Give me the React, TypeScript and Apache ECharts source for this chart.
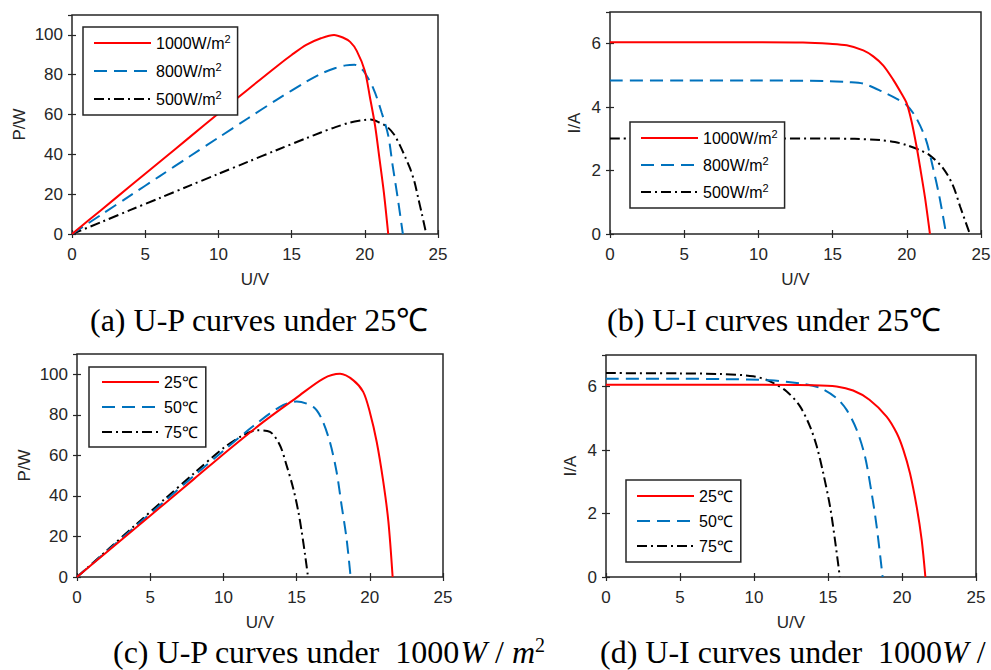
import React, { useEffect, useRef } from "react";
import * as echarts from "echarts";

// ---------- data ----------
// (a) U-P curves under 25°C
const A_V1000 = [0, 2, 4, 6, 8, 10, 12, 14, 15, 16, 17, 17.9, 18.5, 19, 19.45, 20, 20.35, 20.7, 21, 21.3, 21.6];
const A_P1000 = [0, 12.1, 24.2, 36.3, 48.4, 60.5, 72.5, 84.3, 89.9, 95, 98.3, 100, 98.7, 96.5, 92, 82, 68.7, 54.5, 38, 21, 0];
const A_V800 = [0, 2, 4, 6, 8, 10, 12, 14, 16, 17, 18, 18.7, 19.3, 19.9, 20.6, 21.15, 21.6, 21.9, 22.25, 22.6];
const A_P800 = [0, 9.7, 19.4, 29.1, 38.8, 48.4, 58, 67.5, 76.5, 80.5, 83.4, 84.7, 85, 82, 72.8, 61, 49.5, 34.5, 18, 0];
const A_V500 = [0, 2, 4, 6, 8, 10, 12, 14, 16, 17, 18, 19, 20, 20.4, 21, 21.5, 22, 22.4, 22.8, 23.1, 23.4, 23.65, 23.9, 24.2];
const A_P500 = [0, 6, 12.1, 18.1, 24.2, 30.2, 36.2, 42.2, 48.1, 51, 53.7, 56, 57.3, 57.5, 56, 54, 50, 44.5, 38, 32.8, 26, 18, 10, 0];

// (b) U-I curves under 25°C
const B_V1000 = [0, 5, 10, 13, 14.8, 15.95, 17.07, 17.74, 18.42, 19.09, 19.65, 20, 20.33, 20.66, 20.89, 21.22, 21.56];
const B_I1000 = [6.05, 6.05, 6.05, 6.04, 6.0, 5.95, 5.79, 5.6, 5.31, 4.86, 4.42, 4.11, 3.53, 2.75, 2.12, 1.17, 0];
const B_V800 = [0, 5, 10, 14.8, 16, 17.07, 18.4, 19.3, 20, 20.66, 21.3, 21.75, 22.2, 22.65];
const B_I800 = [4.84, 4.84, 4.84, 4.82, 4.79, 4.74, 4.48, 4.27, 4.06, 3.64, 2.96, 2.12, 1.17, 0];
const B_V500 = [0, 5, 10, 14.8, 16.5, 18.2, 19.2, 20, 20.9, 21.55, 22.45, 23.1, 23.6, 24.25];
const B_I500 = [3.01, 3.01, 3.01, 3.01, 3.0, 2.96, 2.9, 2.8, 2.64, 2.48, 2.07, 1.54, 0.86, 0];

// (c) U-P curves under 1000 W/m2
const C_V25 = [0, 2, 4, 6, 8, 10.45, 12.73, 15, 16.83, 17.97, 18.88, 19.55, 20, 20.47, 20.92, 21.27, 21.56];
const C_P25 = [0, 12.1, 24.2, 36.3, 48.4, 63.3, 76.5, 88.5, 97.9, 100.2, 97, 91.3, 81.4, 66.7, 47, 27.3, 0];
const C_V50 = [0, 2, 4, 6, 8, 10, 12, 13.86, 15, 16.14, 16.7, 17.27, 17.73, 18.07, 18.41, 18.69];
const C_P50 = [0, 12.5, 25, 37.5, 50, 62.3, 74.2, 83.9, 86.6, 83.9, 78.2, 66.7, 51.9, 35.5, 19.1, 0];
const C_V75 = [0, 2, 4, 6, 8, 10, 11.36, 12.27, 13.18, 13.86, 14.31, 14.77, 15.12, 15.35, 15.58, 15.78];
const C_P75 = [0, 12.8, 25.7, 38.5, 51.2, 63.6, 70, 72.4, 71.6, 65, 55.2, 43.7, 32.2, 22.3, 10.9, 0];

// (d) U-I curves under 1000 W/m2
const D_V25 = [0, 5, 10, 14, 15.58, 16.7, 17.8, 18.96, 19.64, 20.09, 20.54, 20.99, 21.33, 21.58];
const D_I25 = [6.06, 6.06, 6.06, 6.05, 6.01, 5.88, 5.59, 5.06, 4.54, 4.01, 3.27, 2.22, 1.17, 0];
const D_V50 = [0, 5, 8, 11.08, 13.33, 14.46, 15.58, 16.26, 16.94, 17.5, 17.95, 18.29, 18.69];
const D_I50 = [6.25, 6.25, 6.24, 6.2, 6.09, 5.96, 5.64, 5.27, 4.64, 3.8, 2.64, 1.59, 0];
const D_V75 = [0, 5, 7.7, 9.95, 11.08, 12.21, 13.11, 13.78, 14.24, 14.68, 15.14, 15.47, 15.8];
const D_I75 = [6.43, 6.42, 6.4, 6.33, 6.17, 5.85, 5.38, 4.75, 4.12, 3.27, 2.22, 1.17, 0];

const IRR_NAMES = ["1000W/m²", "800W/m²", "500W/m²"];
const TEMP_NAMES = ["25℃", "50℃", "75℃"];
const X_RANGE = [0, 25, 5];
const P_RANGE = [0, 110, 20];
const I_RANGE = [0, 7, 2];
const CAPTIONS = [
  "(a) U-P curves under 25℃",
  "(b) U-I curves under 25℃",
  "(c) U-P curves under  1000{i|W} / {i|m}{sup|2}",
  "(d) U-I curves under  1000{i|W} / {i|m}{sup|2}",
];

const SANS = "Liberation Sans";
const SERIF = "Liberation Serif";
const AX = "#262626";

const STYLES = [
  { color: "#FF0000", type: "solid" as any },
  { color: "#0072BD", type: [13, 7] as any },
  { color: "#000000", type: [10, 4, 2, 4] as any },
];

const zip = (xs: number[], ys: number[]) => xs.map((x, i) => [x, ys[i]]);

export default function App() {
  const ref = useRef<HTMLDivElement>(null);
  useEffect(() => {
    if (!ref.current) return;
    const chart = echarts.init(ref.current, undefined, { renderer: "svg" });

    const grids = [
      { left: 72, top: 15, width: 366, height: 219 },
      { left: 610, top: 12, width: 371, height: 222 },
      { left: 77, top: 354, width: 366, height: 223 },
      { left: 606, top: 355, width: 370, height: 222 },
    ];
    const yInfo = [
      { r: P_RANGE, name: "P/W", gap: 44 },
      { r: I_RANGE, name: "I/A", gap: 27 },
      { r: P_RANGE, name: "P/W", gap: 44 },
      { r: I_RANGE, name: "I/A", gap: 27 },
    ];

    const tick = { show: true, inside: true, length: 4, lineStyle: { color: AX, width: 1.2 } };
    const xAxis: any[] = [];
    const yAxis: any[] = [];
    grids.forEach((g, i) => {
      xAxis.push({
        type: "value",
        gridIndex: i,
        min: X_RANGE[0],
        max: X_RANGE[1],
        interval: X_RANGE[2],
        position: "bottom",
        name: "U/V",
        nameLocation: "middle",
        nameGap: 37,
        nameTextStyle: { fontFamily: SANS, fontSize: 17, color: AX },
        axisLine: { show: false },
        axisTick: tick,
        axisLabel: { fontFamily: SANS, fontSize: 17, color: AX, margin: 12 },
        splitLine: { show: false },
      });
      xAxis.push({
        type: "value",
        gridIndex: i,
        min: X_RANGE[0],
        max: X_RANGE[1],
        interval: X_RANGE[2],
        position: "top",
        axisLine: { show: false },
        axisTick: tick,
        axisLabel: { show: false },
        splitLine: { show: false },
      });
      const yi = yInfo[i];
      yAxis.push({
        type: "value",
        gridIndex: i,
        min: yi.r[0],
        max: yi.r[1],
        interval: yi.r[2],
        position: "left",
        name: yi.name,
        nameLocation: "middle",
        nameGap: yi.gap,
        nameTextStyle: { fontFamily: SANS, fontSize: 17, color: AX },
        axisLine: { show: false },
        axisTick: tick,
        axisLabel: { fontFamily: SANS, fontSize: 17, color: AX, margin: 9, showMaxLabel: false },
        splitLine: { show: false },
      });
      yAxis.push({
        type: "value",
        gridIndex: i,
        min: yi.r[0],
        max: yi.r[1],
        interval: yi.r[2],
        position: "right",
        axisLine: { show: false },
        axisTick: tick,
        axisLabel: { show: false },
        splitLine: { show: false },
      });
    });

    const mk = (name: string, k: number, gi: number, data: number[][]) => ({
      type: "line",
      name,
      xAxisIndex: gi * 2,
      yAxisIndex: gi * 2,
      data,
      symbol: "none",
      smooth: 0.3,
      lineStyle: { color: STYLES[k].color, type: STYLES[k].type, width: 2 },
      itemStyle: { color: STYLES[k].color },
      z: 3 - k,
    });

    const series = [
      mk(IRR_NAMES[0], 0, 0, zip(A_V1000, A_P1000)),
      mk(IRR_NAMES[1], 1, 0, zip(A_V800, A_P800)),
      mk(IRR_NAMES[2], 2, 0, zip(A_V500, A_P500)),
      mk(IRR_NAMES[0], 0, 1, zip(B_V1000, B_I1000)),
      mk(IRR_NAMES[1], 1, 1, zip(B_V800, B_I800)),
      mk(IRR_NAMES[2], 2, 1, zip(B_V500, B_I500)),
      mk(TEMP_NAMES[0], 0, 2, zip(C_V25, C_P25)),
      mk(TEMP_NAMES[1], 1, 2, zip(C_V50, C_P50)),
      mk(TEMP_NAMES[2], 2, 2, zip(C_V75, C_P75)),
      mk(TEMP_NAMES[0], 0, 3, zip(D_V25, D_I25)),
      mk(TEMP_NAMES[1], 1, 3, zip(D_V50, D_I50)),
      mk(TEMP_NAMES[2], 2, 3, zip(D_V75, D_I75)),
    ];

    const legendBase = (left: number, top: number, names: string[], rowGap: number, padding: number[]) => ({
      data: names,
      orient: "vertical",
      left,
      top,
      padding,
      itemGap: rowGap,
      itemWidth: 57,
      itemHeight: 14,
      selectedMode: false,
      backgroundColor: "#fff",
      borderColor: AX,
      borderWidth: 1.5,
      borderRadius: 0,
      itemStyle: { opacity: 0, color: "transparent", borderColor: "transparent", borderWidth: 0 },
      formatter: (n: string) => n.replace("²", "{sup|2}"),
      textStyle: {
        fontFamily: SANS,
        fontSize: 16,
        color: "#000",
        lineHeight: 20,
        rich: { sup: { fontFamily: SANS, fontSize: 11, color: "#000", padding: [0, 0, 9, 0] } },
      },
    });

    const legend = [
      legendBase(83, 27, IRR_NAMES, 8, [6, 7, 6, 10]),
      legendBase(630, 122, IRR_NAMES, 7, [6, 7, 6, 10]),
      legendBase(89, 367, TEMP_NAMES, 5, [5, 8, 5, 12]),
      legendBase(626, 480, TEMP_NAMES, 5, [6, 8, 6, 10]),
    ];

    const capPos = [
      [90, 320],
      [607, 320],
      [113, 652],
      [600, 652],
    ];
    const graphic = CAPTIONS.map((t, i) => ({
      type: "text",
      x: capPos[i][0],
      y: capPos[i][1],
      style: {
        text: t,
        fontFamily: SERIF,
        fontSize: 32,
        lineHeight: 26,
        fill: "#000",
        verticalAlign: "middle",
        rich: {
          i: { fontFamily: SERIF, fontSize: 32, lineHeight: 26, fontStyle: "italic", fill: "#000" },
          sup: { fontFamily: SERIF, fontSize: 20, lineHeight: 26, fill: "#000", padding: [0, 0, 14, 0] },
        },
      },
    }));

    chart.setOption({
      animation: false,
      backgroundColor: "#fff",
      grid: grids.map((g) => ({
        ...g,
        show: true,
        borderColor: AX,
        borderWidth: 1.5,
        backgroundColor: "transparent",
        containLabel: false,
        outerBoundsMode: "none",
      })),
      xAxis,
      yAxis,
      legend,
      series,
      graphic,
    } as any);

    return () => chart.dispose();
  }, []);

  return (
    <div
      ref={ref}
      style={{ position: "fixed", left: 0, top: 0, width: 991, height: 670, background: "#fff" }}
    />
  );
}
